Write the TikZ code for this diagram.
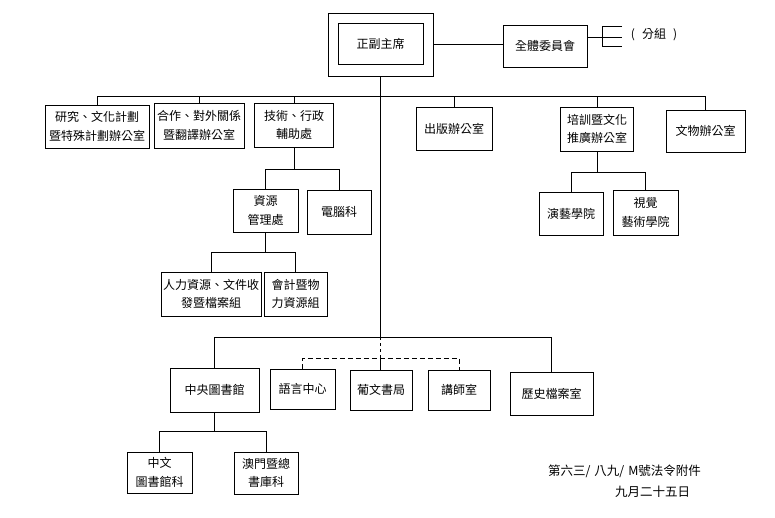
\documentclass[tikz,border=0pt]{standalone}
\usepackage{fontspec}
\setmainfont{Noto Sans CJK TC}
\begin{document}
\begin{tikzpicture}[x=1pt,y=-1pt,
  box/.style={draw, line width=0.9pt, inner sep=1pt, align=center,
    font=\fontsize{12}{18.5}\selectfont},
  conn/.style={line width=0.8pt},
  lbl/.style={inner sep=0pt, font=\fontsize{12.5}{14}\selectfont}]
\useasboundingbox (0,0) rectangle (775,517);
\fill[white] (0,0) rectangle (775,517);

% top
\node[box, minimum width=105pt, minimum height=63pt] (chairout) at (380.5,44.5) {};
\node[box, minimum width=85pt, minimum height=41pt] (chair) at (380.5,43.5) {正副主席};
\node[box, minimum width=84pt, minimum height=42pt] (quanti) at (545,46) {全體委員會};
\node[lbl, font=\fontsize{12}{14}\selectfont] (fenzu) at (654,35) {(\hspace{7pt}分組\hspace{7pt})};
\coordinate (bk) at (602,37);
\coordinate (bke) at (622,37);
\coordinate (bt) at (602,26);
\coordinate (bte) at (622,26);
\coordinate (bb) at (602,46);
\coordinate (bbe) at (622,46);

% level 2
\node[box, minimum width=104pt, minimum height=43pt] (yan) at (97,126.5) {研究、文化計劃\\暨特殊計劃辦公室};
\node[box, minimum width=90pt, minimum height=45pt] (he) at (199,125.5) {合作、對外關係\\暨翻譯辦公室};
\node[box, minimum width=79pt, minimum height=44pt] (ji) at (294,125) {技術、行政\\輔助處};
\node[box, minimum width=76pt, minimum height=43pt] (chu) at (454,128.5) {出版辦公室};
\node[box, minimum width=73pt, minimum height=44pt] (pei) at (597,129) {培訓暨文化\\推廣辦公室};
\node[box, minimum width=79pt, minimum height=42pt] (wenwu) at (705.5,131) {文物辦公室};

% level 3
\node[box, minimum width=65pt, minimum height=43pt] (ziyuan) at (265.5,210.5) {資源\\管理處};
\node[box, minimum width=64pt, minimum height=44pt] (diannao) at (339,212) {電腦科};
\node[box, minimum width=64pt, minimum height=43pt] (yanyi) at (571,213.5) {演藝學院};
\node[box, minimum width=65pt, minimum height=45pt] (shijue) at (645.5,212.5) {視覺\\藝術學院};

% level 4
\node[box, minimum width=100pt, minimum height=44pt] (renli) at (211,294) {人力資源、文件收\\發暨檔案組};
\node[box, minimum width=63pt, minimum height=44pt] (kuaiji) at (295.5,294) {會計暨物\\力資源組};

% level 5
\node[box, minimum width=89pt, minimum height=44pt] (zhongyang) at (214.5,390) {中央圖書館};
\node[box, minimum width=65pt, minimum height=40pt] (yuyan) at (302.5,389) {語言中心};
\node[box, minimum width=62pt, minimum height=40pt] (puwen) at (381,390) {葡文書局};
\node[box, minimum width=62pt, minimum height=40pt] (jiangshi) at (459,390) {講師室};
\node[box, minimum width=83pt, minimum height=43pt] (lishi) at (551.5,393.5) {歷史檔案室};

% level 6
\node[box, minimum width=65pt, minimum height=41pt] (zhongwen) at (159.5,472.5) {中文\\圖書館科};
\node[box, minimum width=64pt, minimum height=42pt] (aomen) at (266,473) {澳門暨總\\書庫科};

% note
\node[lbl] (law1) at (624.5,471) {第六三/\hspace{4pt}八九/\hspace{4pt}M號法令附件};
\node[lbl] (law2) at (652.5,492) {九月二十五日};

% bus coordinates
\coordinate (b2) at (0,96);
\coordinate (b3) at (0,169);
\coordinate (b3p) at (0,172);
\coordinate (b4) at (0,252);
\coordinate (b5) at (0,337);
\coordinate (d5) at (0,358);
\coordinate (b6) at (0,431);

% top connectors
\draw[conn] (chairout.east) -- (chairout.east -| quanti.west);
\draw[conn] (quanti.east |- bk) -- (bke);
\draw[conn] (bte) -- (bt) -- (bb) -- (bbe);

% main trunk
\coordinate (m5) at (chairout.south |- b5);
\coordinate (md) at (chairout.south |- d5);
\draw[conn] (chairout.south) -- (m5);
\draw[conn, dash pattern=on 3pt off 3pt] (m5) -- (md);
\draw[conn] (md) -- (md |- puwen.north);

% level 2
\draw[conn] (yan.north |- b2) -- (wenwu.north |- b2);
\foreach \n in {yan,he,ji,chu,pei,wenwu}
  \draw[conn] (\n.north) -- (\n.north |- b2);

% level 3 under ji
\draw[conn] (ji.south) -- (ji.south |- b3);
\draw[conn] (ziyuan.north |- b3) -- (diannao.north |- b3);
\draw[conn] (ziyuan.north) -- (ziyuan.north |- b3);
\draw[conn] (diannao.north) -- (diannao.north |- b3);

% level 3 under pei
\draw[conn] (pei.south) -- (pei.south |- b3p);
\draw[conn] (yanyi.north |- b3p) -- (shijue.north |- b3p);
\draw[conn] (yanyi.north) -- (yanyi.north |- b3p);
\draw[conn] (shijue.north) -- (shijue.north |- b3p);

% level 4
\draw[conn] (ziyuan.south) -- (ziyuan.south |- b4);
\draw[conn] (renli.north |- b4) -- (kuaiji.north |- b4);
\draw[conn] (renli.north) -- (renli.north |- b4);
\draw[conn] (kuaiji.north) -- (kuaiji.north |- b4);

% level 5
\draw[conn] (zhongyang.north |- b5) -- (lishi.north |- b5);
\draw[conn] (zhongyang.north) -- (zhongyang.north |- b5);
\draw[conn] (lishi.north) -- (lishi.north |- b5);
\draw[conn, dash pattern=on 5pt off 3pt] (yuyan.north) -- (yuyan.north |- d5) -- (jiangshi.north |- d5) -- (jiangshi.north);

% level 6
\draw[conn] (zhongyang.south) -- (zhongyang.south |- b6);
\draw[conn] (zhongwen.north |- b6) -- (aomen.north |- b6);
\draw[conn] (zhongwen.north) -- (zhongwen.north |- b6);
\draw[conn] (aomen.north) -- (aomen.north |- b6);
\end{tikzpicture}
\end{document}
